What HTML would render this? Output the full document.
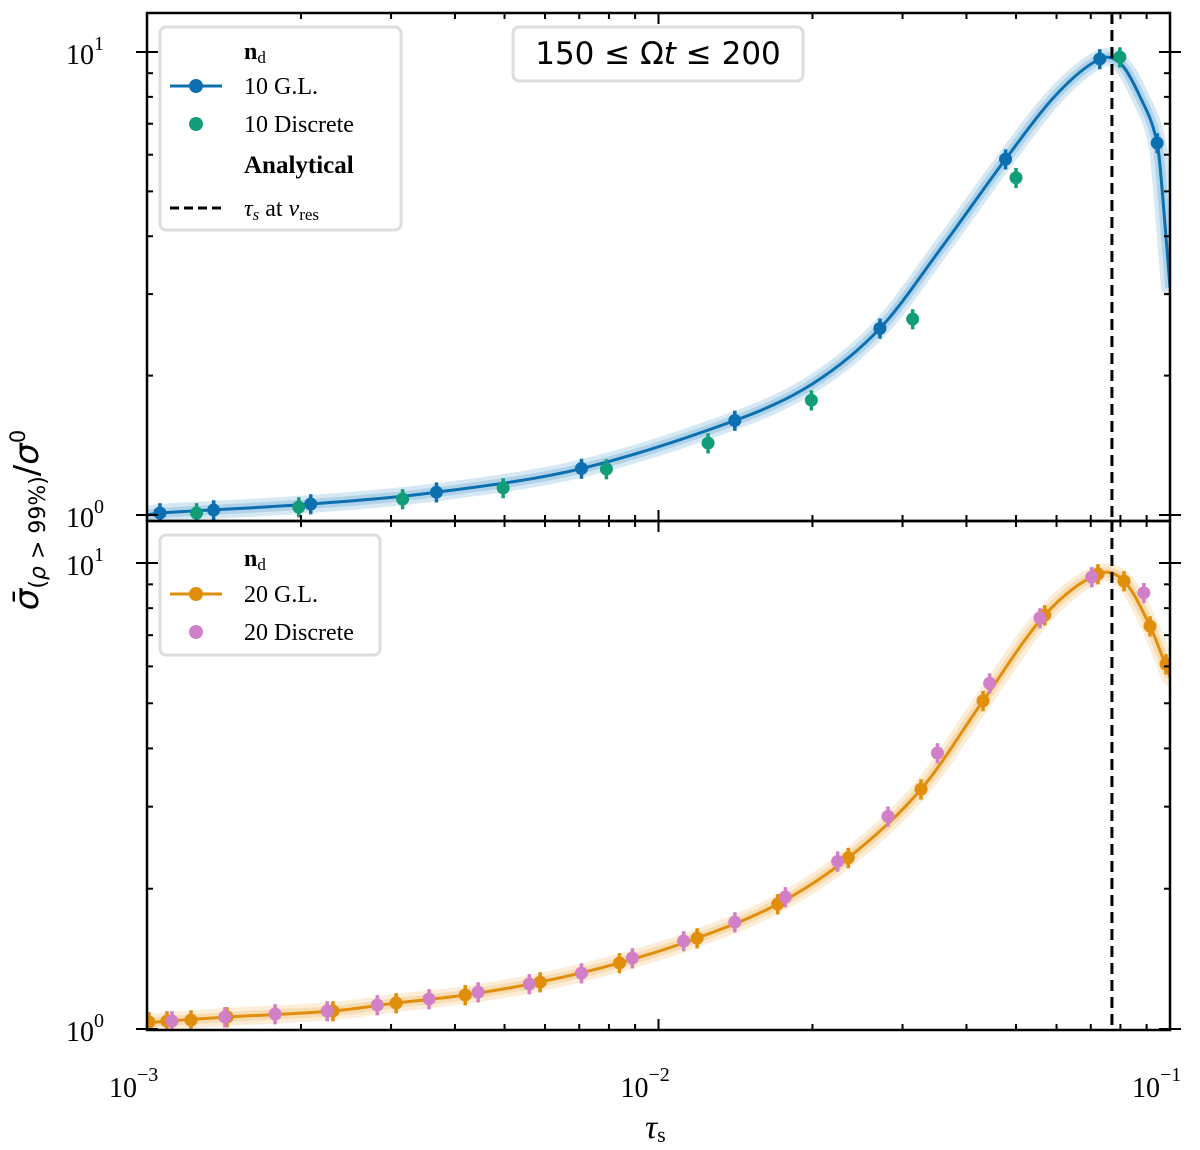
<!DOCTYPE html>
<html><head><meta charset="utf-8"><style>
body{margin:0;background:#fff}
</style></head><body>
<svg id="chart" width="1200" height="1145" xmlns="http://www.w3.org/2000/svg" style="font-family:'Liberation Serif',serif"></svg>
<script>
// ---- data ----
const topGLTau=[1.06e-3,1.35e-3,2.09e-3,3.68e-3,7.07e-3,1.41e-2,2.71e-2,4.77e-2,7.29e-2,9.44e-2];
const topGLVal=[1.01,1.025,1.056,1.12,1.26,1.60,2.53,5.87,9.66,6.36];
const topDiscTau=[1.25e-3,1.98e-3,3.16e-3,4.97e-3,7.91e-3,1.25e-2,1.99e-2,3.14e-2,5.00e-2,7.98e-2];
const topDiscVal=[1.01,1.04,1.083,1.144,1.257,1.43,1.77,2.65,5.35,9.75];
const topCurveTau=[1e-3,1.06e-3,2.09e-3,3.68e-3,7.07e-3,1.41e-2,2.0e-2,2.71e-2,3.55e-2,4.77e-2,6.0e-2,7.29e-2,8.0e-2,8.74e-2,9.44e-2,9.69e-2,1e-1];
const topCurveVal=[1.0,1.01,1.056,1.12,1.26,1.60,1.92,2.53,3.74,5.87,8.1,9.66,9.45,8.0,6.36,4.79,3.1];
const botGLTau=[1.009e-3,1.094e-3,1.219e-3,1.434e-3,2.31e-3,3.07e-3,4.19e-3,5.87e-3,8.39e-3,1.19e-2,1.71e-2,2.35e-2,3.26e-2,4.31e-2,5.69e-2,7.23e-2,8.13e-2,9.14e-2,9.82e-2];
const botGLVal=[1.035,1.04,1.045,1.061,1.093,1.137,1.183,1.261,1.386,1.567,1.854,2.33,3.27,5.06,7.73,9.47,9.15,7.32,6.07];
const botDiscTau=[1.119e-3,1.42e-3,1.78e-3,2.25e-3,2.82e-3,3.56e-3,4.44e-3,5.59e-3,7.07e-3,8.89e-3,1.12e-2,1.41e-2,1.77e-2,2.24e-2,2.81e-2,3.51e-2,4.44e-2,5.57e-2,7.03e-2,8.89e-2];
const botDiscVal=[1.04,1.061,1.077,1.093,1.126,1.16,1.2,1.249,1.318,1.42,1.545,1.696,1.92,2.29,2.86,3.91,5.52,7.62,9.33,8.63];
const botCurveTau=[1e-3,1.094e-3,1.434e-3,2.31e-3,3.07e-3,4.19e-3,5.87e-3,8.39e-3,1.19e-2,1.71e-2,2.35e-2,3.26e-2,4.31e-2,5.69e-2,7.23e-2,8.13e-2,9.14e-2,1e-1];
const botCurveVal=[1.03,1.04,1.061,1.093,1.137,1.183,1.261,1.386,1.567,1.854,2.33,3.27,5.06,7.73,9.47,9.15,7.32,5.7];
const resTau=0.077;
const relErr=0.05;
const xTickLabels=["−3","−2","−1"];
const yTickLabels=["0","1"];

// ---- layout ----
const NS="http://www.w3.org/2000/svg";
const svg=document.getElementById('chart');
const X0=147,X1=1170;
const panels=[{top:13,bot:521,y1:52,y0:515},{top:521,bot:1030,y1:563,y0:1029}];
function xs(t){return X0+(Math.log10(t)+3)/2*(X1-X0);}
function ysF(p){return v=>p.y0-Math.log10(v)*(p.y0-p.y1);}
function el(tag,attrs,parent){const e=document.createElementNS(NS,tag);for(const k in attrs)e.setAttribute(k,attrs[k]);(parent||svg).appendChild(e);return e;}
function pathThrough(X,Y){
  const n=X.length,m=[];
  for(let i=0;i<n;i++){
    const a=Math.max(i-1,0),b=Math.min(i+1,n-1);
    m.push((Y[b]-Y[a])/(X[b]-X[a]));
  }
  let d=`M${X[0]},${Y[0]}`;
  for(let i=0;i<n-1;i++){
    const dx=(X[i+1]-X[i])/3;
    d+=` C${X[i]+dx},${Y[i]+m[i]*dx} ${X[i+1]-dx},${Y[i+1]-m[i+1]*dx} ${X[i+1]},${Y[i+1]}`;
  }
  return d;
}
function drawPanel(p,idx,curveT,curveV,glT,glV,dT,dV,c1,c1light,c2){
  const ys=ysF(p);
  const clip=el('clipPath',{id:'clip'+idx});
  el('rect',{x:X0,y:p.top,width:X1-X0,height:p.bot-p.top},clip);
  const g=el('g',{'clip-path':`url(#clip${idx})`});
  
  
  const d=pathThrough(curveT.map(xs),curveV.map(ys));
  const band=el('path',{d:d,fill:'none',stroke:c1light,'stroke-width':18,opacity:0.3,'stroke-linecap':'round'},g);
  
  el('path',{d:d,fill:'none',stroke:c1light,'stroke-width':10,opacity:0.4},g);
  const ln=el('path',{d:d,fill:'none',stroke:c1,'stroke-width':3},g);
  
  const rl=el('line',{x1:xs(resTau),x2:xs(resTau),y1:p.top,y2:p.bot,stroke:'#000','stroke-width':3,'stroke-dasharray':'11,6'},g);
  
  function pts(T,V,col,name){
    T.forEach((t,i)=>{
      const x=xs(t),y=ys(V[i]);
      const e=el('line',{x1:x,x2:x,y1:ys(V[i]*(1+relErr)),y2:ys(V[i]*(1-relErr)),stroke:col,'stroke-width':3.5},g);
      
      const c=el('circle',{cx:x,cy:y,r:6.5,fill:col},g);
      
    });
  }
  pts(glT,glV,c1,'gl');
  pts(dT,dV,c2,'discrete');
  const fr=el('rect',{x:X0,y:p.top,width:X1-X0,height:p.bot-p.top,fill:'none',stroke:'#000','stroke-width':2.5});
  
  for(let e=-3;e<=-1;e++){for(let m=1;m<=9;m++){
    const t=m*Math.pow(10,e); if(t>0.1+1e-9) break;
    const x=xs(t),L=m==1?11:6;
    el('line',{x1:x,x2:x,y1:p.bot,y2:p.bot-L,stroke:'#000','stroke-width':2});
    el('line',{x1:x,x2:x,y1:p.top,y2:p.top+L,stroke:'#000','stroke-width':2});
  }}
  for(let e=0;e<=1;e++){for(let m=1;m<=9;m++){
    const v=m*Math.pow(10,e);const y=ys(v);
    if(y<p.top-1||y>p.bot+1)continue;
    const L=m==1?11:6;
    el('line',{x1:X0,x2:X0+L,y1:y,y2:y,stroke:'#000','stroke-width':2});
    el('line',{x1:X1,x2:X1-L,y1:y,y2:y,stroke:'#000','stroke-width':2});
    if(m==1){
      el('line',{x1:X0-11,x2:X0,y1:y,y2:y,stroke:'#000','stroke-width':2});
      el('line',{x1:X1,x2:X1+11,y1:y,y2:y,stroke:'#000','stroke-width':2});
    }
  }}
  yTickLabels.forEach((lab,i)=>{
    const t=el('text',{x:66,y:ys(Math.pow(10,i))+12,'font-size':28});
    
    t.innerHTML=`10<tspan dy="-14" font-size="20">${lab}</tspan>`;
  });
}
drawPanel(panels[0],0,topCurveTau,topCurveVal,topGLTau,topGLVal,topDiscTau,topDiscVal,'#0b6fb0','#78b4dc','#109d78');
drawPanel(panels[1],1,botCurveTau,botCurveVal,botGLTau,botGLVal,botDiscTau,botDiscVal,'#e08e0b','#f2c37a','#d17fc6');

xTickLabels.forEach((lab,i)=>{
  const t=el('text',{x:xs(Math.pow(10,i-3))-38,y:1097,'font-size':28});
  
  t.innerHTML=`10<tspan dy="-16" font-size="20">${lab}</tspan>`;
});
</script>
<svg width="1200" height="1145" style="position:absolute;left:0;top:0;font-family:'Liberation Serif',serif" xmlns="http://www.w3.org/2000/svg">
<text x="645" y="1138" font-size="34" font-style="italic">τ<tspan font-size="22" font-style="normal" dy="4">s</tspan></text>
<text transform="translate(38,520) rotate(-90)" text-anchor="middle" font-size="34" style="font-family:'DejaVu Sans',sans-serif"><tspan font-style="italic">σ̄</tspan><tspan font-size="22" dy="7">(<tspan font-style="italic">ρ</tspan> &gt; 99%)</tspan><tspan dy="-7">/</tspan><tspan font-style="italic">σ</tspan><tspan font-size="21" dy="-13">0</tspan></text>
<g>
<rect x="160" y="27" width="241" height="203" rx="6" fill="#fff" fill-opacity="0.85" stroke="#ddd" stroke-width="3"/>
<text x="244" y="59" font-size="24" font-weight="bold">n<tspan font-weight="normal" font-size="17" dy="4">d</tspan></text>
<line x1="170" x2="222" y1="86" y2="86" stroke="#0b6fb0" stroke-width="3"/><circle cx="196" cy="86" r="7" fill="#0b6fb0"/>
<text x="244" y="94" font-size="24">10 G.L.</text>
<circle cx="196" cy="124" r="7" fill="#109d78"/>
<text x="244" y="132" font-size="24">10 Discrete</text>
<text x="244" y="173" font-size="25" font-weight="bold">Analytical</text>
<line x1="170" x2="222" y1="208" y2="208" stroke="#000" stroke-width="3" stroke-dasharray="9,5"/>
<text x="244" y="216" font-size="24"><tspan font-style="italic">τ<tspan font-size="17" dy="4">s</tspan></tspan><tspan dy="-4"> at </tspan><tspan font-style="italic">ν</tspan><tspan font-size="17" dy="4">res</tspan></text>
</g>
<g>
<rect x="513" y="27" width="290" height="54" rx="6" fill="#fff" fill-opacity="0.85" stroke="#ddd" stroke-width="3"/>
<text x="658" y="64" text-anchor="middle" font-size="31" style="font-family:'DejaVu Sans',sans-serif">150 ≤ Ω<tspan font-style="italic">t</tspan> ≤ 200</text>
</g>
<g>
<rect x="160" y="535" width="220" height="120" rx="6" fill="#fff" fill-opacity="0.85" stroke="#ddd" stroke-width="3"/>
<text x="244" y="566" font-size="24" font-weight="bold">n<tspan font-weight="normal" font-size="17" dy="4">d</tspan></text>
<line x1="170" x2="222" y1="594" y2="594" stroke="#e08e0b" stroke-width="3"/><circle cx="196" cy="594" r="7" fill="#e08e0b"/>
<text x="244" y="602" font-size="24">20 G.L.</text>
<circle cx="196" cy="632" r="7" fill="#d17fc6"/>
<text x="244" y="640" font-size="24">20 Discrete</text>
</g>
</svg>
</body></html>
